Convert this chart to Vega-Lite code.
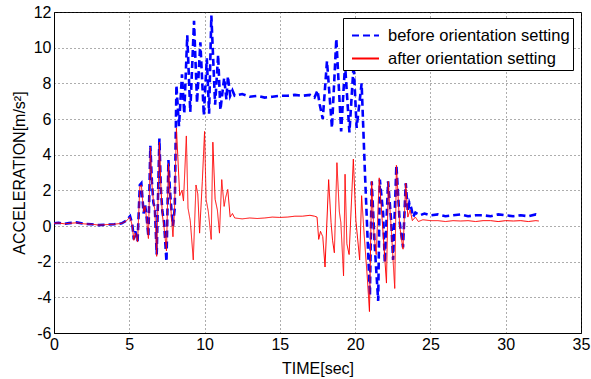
{
  "$schema": "https://vega.github.io/schema/vega-lite/v6.json",
  "width": 527,
  "height": 321,
  "autosize": {"type": "none"},
  "padding": {"left": 54, "top": 12, "right": 10, "bottom": 46},
  "background": "white",
  "datasets": {
    "before": [
      {"t":0,"v":0.15},{"t":0.3,"v":0.18},{"t":0.7,"v":0.12},{"t":1,"v":0.16},{"t":1.5,"v":0.2},{"t":2,"v":0.12},{"t":2.5,"v":0.1},{"t":3,"v":0.05},{"t":3.5,"v":0.08},{"t":4,"v":0.1},{"t":4.5,"v":0.15},{"t":4.8,"v":0.3},{"t":5.05,"v":0.55},{"t":5.2,"v":0.1},{"t":5.3,"v":-0.75},{"t":5.4,"v":-0.3},{"t":5.55,"v":-0.85},{"t":5.7,"v":2.3},{"t":5.8,"v":2.4},{"t":5.95,"v":0.7},{"t":6.05,"v":1.2},{"t":6.15,"v":0.5},{"t":6.27,"v":-0.6},{"t":6.4,"v":4.5},{"t":6.5,"v":2.5},{"t":6.6,"v":1.3},{"t":6.7,"v":1.0},{"t":6.82,"v":-1.6},{"t":7.0,"v":4.9},{"t":7.1,"v":2.0},{"t":7.2,"v":0.8},{"t":7.3,"v":0.3},{"t":7.47,"v":-2.0},{"t":7.6,"v":3.7},{"t":7.7,"v":2.0},{"t":7.8,"v":0.9},{"t":7.9,"v":0.0},{"t":8.02,"v":1.0},{"t":8.13,"v":7.9},{"t":8.3,"v":5.6},{"t":8.5,"v":8.5},{"t":8.65,"v":6.3},{"t":8.85,"v":10.7},{"t":9.05,"v":6.4},{"t":9.3,"v":11.5},{"t":9.5,"v":6.9},{"t":9.72,"v":10.3},{"t":9.95,"v":6.2},{"t":10.15,"v":9.4},{"t":10.3,"v":6.3},{"t":10.45,"v":11.8},{"t":10.7,"v":6.8},{"t":10.9,"v":9.6},{"t":11.05,"v":6.5},{"t":11.3,"v":8.3},{"t":11.45,"v":7.1},{"t":11.55,"v":8.4},{"t":11.7,"v":7.3},{"t":11.85,"v":7.6},{"t":12,"v":7.3},{"t":12.5,"v":7.4},{"t":13,"v":7.25},{"t":13.5,"v":7.3},{"t":14,"v":7.2},{"t":14.5,"v":7.25},{"t":15,"v":7.3},{"t":15.5,"v":7.3},{"t":16,"v":7.35},{"t":16.5,"v":7.3},{"t":17,"v":7.35},{"t":17.3,"v":7.2},{"t":17.5,"v":7.6},{"t":17.65,"v":6.8},{"t":17.85,"v":6.0},{"t":18.13,"v":9.25},{"t":18.46,"v":5.5},{"t":18.75,"v":10.5},{"t":19.07,"v":5.3},{"t":19.33,"v":9.05},{"t":19.62,"v":5.25},{"t":19.9,"v":9.05},{"t":20.1,"v":5.5},{"t":20.43,"v":8.0},{"t":20.65,"v":3.0},{"t":20.98,"v":-3.9},{"t":21.1,"v":2.5},{"t":21.3,"v":-1.1},{"t":21.53,"v":-4.2},{"t":21.64,"v":2.6},{"t":21.86,"v":0.7},{"t":21.97,"v":-2.05},{"t":22.19,"v":2.5},{"t":22.4,"v":0.2},{"t":22.52,"v":-1.9},{"t":22.74,"v":3.4},{"t":22.96,"v":0.2},{"t":23.18,"v":-1.2},{"t":23.36,"v":2.4},{"t":23.5,"v":0.8},{"t":23.6,"v":1.3},{"t":23.73,"v":1.0},{"t":23.85,"v":0.5},{"t":24,"v":0.75},{"t":24.3,"v":0.6},{"t":24.6,"v":0.7},{"t":25,"v":0.6},{"t":25.5,"v":0.65},{"t":26,"v":0.55},{"t":26.5,"v":0.6},{"t":27,"v":0.65},{"t":27.5,"v":0.55},{"t":28,"v":0.6},{"t":28.5,"v":0.6},{"t":29,"v":0.55},{"t":29.5,"v":0.65},{"t":30,"v":0.6},{"t":30.5,"v":0.55},{"t":31,"v":0.6},{"t":31.5,"v":0.55},{"t":32,"v":0.65},{"t":32.2,"v":0.6}
    ],
    "after": [
      {"t":0,"v":0.15},{"t":0.3,"v":0.17},{"t":0.7,"v":0.12},{"t":1,"v":0.15},{"t":1.5,"v":0.18},{"t":2,"v":0.12},{"t":2.5,"v":0.1},{"t":3,"v":0.05},{"t":3.5,"v":0.08},{"t":4,"v":0.1},{"t":4.5,"v":0.15},{"t":4.8,"v":0.28},{"t":5.05,"v":0.5},{"t":5.2,"v":0.0},{"t":5.3,"v":-0.8},{"t":5.4,"v":-0.4},{"t":5.55,"v":-0.9},{"t":5.7,"v":2.2},{"t":5.8,"v":2.3},{"t":5.95,"v":0.8},{"t":6.05,"v":1.1},{"t":6.15,"v":0.4},{"t":6.27,"v":-0.7},{"t":6.4,"v":4.4},{"t":6.5,"v":2.4},{"t":6.6,"v":1.4},{"t":6.7,"v":0.9},{"t":6.82,"v":-1.7},{"t":7.0,"v":4.7},{"t":7.1,"v":2.2},{"t":7.2,"v":0.6},{"t":7.3,"v":0.0},{"t":7.47,"v":-1.4},{"t":7.6,"v":3.5},{"t":7.7,"v":1.8},{"t":7.8,"v":0.5},{"t":7.9,"v":-0.6},{"t":8.0,"v":0.8},{"t":8.13,"v":5.5},{"t":8.35,"v":1.7},{"t":8.5,"v":2.0},{"t":8.6,"v":1.4},{"t":8.79,"v":5.05},{"t":8.9,"v":1.0},{"t":9.05,"v":0.3},{"t":9.25,"v":-1.9},{"t":9.43,"v":2.3},{"t":9.55,"v":1.8},{"t":9.67,"v":-0.4},{"t":9.85,"v":2.5},{"t":10.0,"v":5.3},{"t":10.1,"v":1.5},{"t":10.25,"v":0.8},{"t":10.44,"v":-0.75},{"t":10.55,"v":4.7},{"t":10.7,"v":1.5},{"t":10.85,"v":0.9},{"t":10.99,"v":-0.4},{"t":11.14,"v":2.6},{"t":11.3,"v":1.1},{"t":11.4,"v":1.6},{"t":11.54,"v":2.05},{"t":11.7,"v":0.5},{"t":11.85,"v":0.7},{"t":12,"v":0.45},{"t":12.5,"v":0.4},{"t":13,"v":0.45},{"t":13.5,"v":0.42},{"t":14,"v":0.45},{"t":14.5,"v":0.5},{"t":15,"v":0.48},{"t":15.5,"v":0.5},{"t":16,"v":0.55},{"t":16.5,"v":0.55},{"t":17,"v":0.6},{"t":17.3,"v":0.55},{"t":17.47,"v":0.5},{"t":17.58,"v":-0.75},{"t":17.7,"v":-0.3},{"t":17.85,"v":-0.6},{"t":18.0,"v":-2.3},{"t":18.24,"v":2.6},{"t":18.4,"v":0.2},{"t":18.5,"v":-0.8},{"t":18.62,"v":-1.5},{"t":18.79,"v":3.55},{"t":18.95,"v":0.8},{"t":19.05,"v":0.2},{"t":19.23,"v":-2.8},{"t":19.33,"v":2.9},{"t":19.45,"v":-1.0},{"t":19.6,"v":-1.6},{"t":19.88,"v":3.75},{"t":20.05,"v":0.3},{"t":20.3,"v":-1.9},{"t":20.43,"v":1.7},{"t":20.6,"v":-0.5},{"t":20.8,"v":-2.8},{"t":20.95,"v":-4.8},{"t":21.1,"v":2.5},{"t":21.25,"v":-0.5},{"t":21.4,"v":-1.6},{"t":21.6,"v":2.7},{"t":21.8,"v":0.3},{"t":22.08,"v":-3.2},{"t":22.2,"v":2.5},{"t":22.4,"v":-0.2},{"t":22.63,"v":-3.5},{"t":22.74,"v":3.4},{"t":22.96,"v":0.0},{"t":23.18,"v":-1.3},{"t":23.36,"v":2.4},{"t":23.5,"v":0.5},{"t":23.65,"v":0.9},{"t":23.8,"v":0.3},{"t":24,"v":0.5},{"t":24.2,"v":0.25},{"t":24.5,"v":0.35},{"t":25,"v":0.3},{"t":25.5,"v":0.3},{"t":26,"v":0.25},{"t":26.5,"v":0.3},{"t":27,"v":0.28},{"t":27.5,"v":0.3},{"t":28,"v":0.25},{"t":28.5,"v":0.3},{"t":29,"v":0.3},{"t":29.5,"v":0.25},{"t":30,"v":0.3},{"t":30.5,"v":0.28},{"t":31,"v":0.3},{"t":31.5,"v":0.25},{"t":32,"v":0.3},{"t":32.2,"v":0.28}
    ]
  },
  "encoding": {
    "x": {"field": "t", "type": "quantitative", "scale": {"domain": [0, 35], "nice": false, "zero": false},
      "axis": {"values": [0,5,10,15,20,25,30,35], "title": "TIME[sec]", "labelFlush": false, "labelOverlap": false, "labelPadding": 3, "titlePadding": 8}},
    "y": {"field": "v", "type": "quantitative", "scale": {"domain": [-6, 12], "nice": false, "zero": false},
      "axis": {"values": [-6,-4,-2,0,2,4,6,8,10,12], "title": "ACCELERATION[m/s²]", "labelPadding": 3, "titlePadding": 6}}
  },
  "layer": [
    {
      "data": {"name": "before"},
      "mark": {"type": "line", "strokeWidth": 2.6, "clip": true},
      "encoding": {
        "color": {"datum": "before orientation setting", "type": "nominal",
          "scale": {"domain": ["before orientation setting", "after orientation setting"], "range": ["#0000ff", "#ff0000"]},
          "legend": {"title": null}},
        "strokeDash": {"datum": "before orientation setting", "type": "nominal",
          "scale": {"domain": ["before orientation setting", "after orientation setting"], "range": [[7, 4], [1, 0]]},
          "legend": {"title": null}}
      }
    },
    {
      "data": {"name": "after"},
      "mark": {"type": "line", "strokeWidth": 1, "clip": true},
      "encoding": {
        "color": {"datum": "after orientation setting", "type": "nominal"},
        "strokeDash": {"datum": "after orientation setting", "type": "nominal"}
      }
    }
  ],
  "config": {
    "font": "Liberation Sans",
    "view": {"stroke": "#000", "strokeWidth": 1},
    "axis": {
      "labelFont": "Liberation Sans", "labelFontSize": 16, "labelColor": "#000",
      "titleFont": "Liberation Sans", "titleFontSize": 16, "titleFontWeight": "normal", "titleColor": "#000",
      "domainColor": "#000", "ticks": false,
      "grid": true, "gridColor": "#333", "gridDash": [1, 3], "gridWidth": 1, "gridOpacity": 0.8,
      "labelExpr": "datum.value + ''"
    },
    "legend": {
      "orient": "none", "legendX": 289, "legendY": 6,
      "strokeColor": "#000", "fillColor": "#fff", "padding": 3,
      "labelFont": "Liberation Sans", "labelFontSize": 16.5, "labelColor": "#000", "labelLimit": 400,
      "symbolType": "stroke", "symbolSize": 729, "symbolStrokeWidth": 2, "symbolOffset": 5, "rowPadding": -3, "labelOffset": 8
    }
  }
}
